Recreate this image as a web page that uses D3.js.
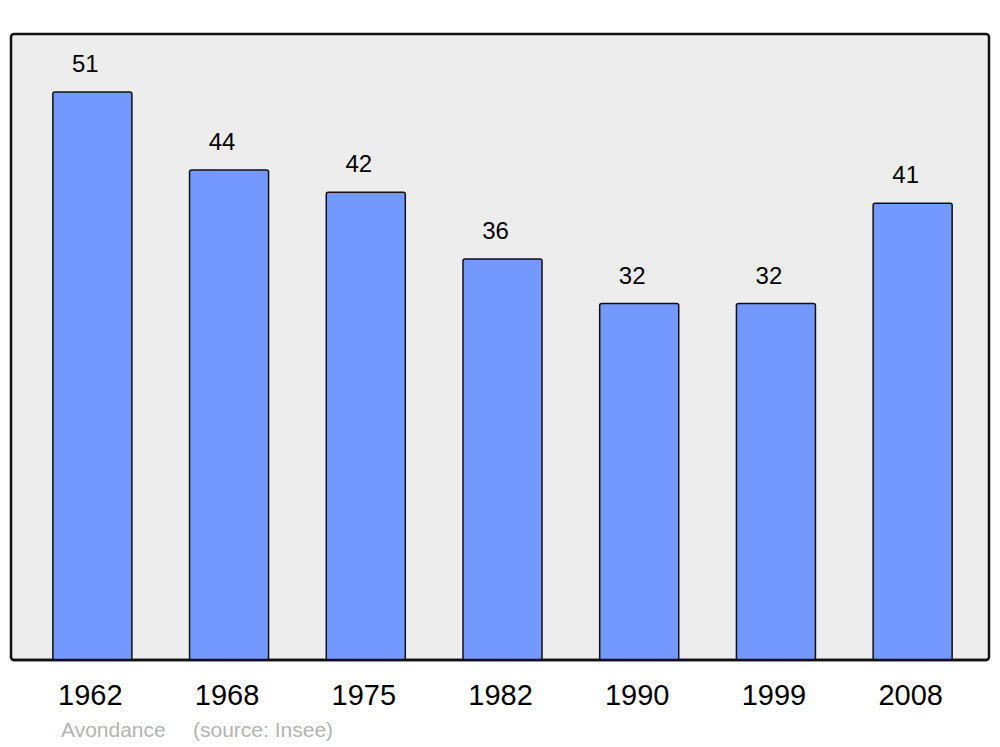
<!DOCTYPE html>
<html>
<head>
<meta charset="utf-8">
<script src="https://cdn.jsdelivr.net/npm/d3@7"></script>
<style>
  body { margin: 0; background: #fff; }
  text { font-family: "Liberation Sans", Arial, sans-serif; }
</style>
</head>
<body>
<div id="chart"></div>
<script>
var svgWidth = 1000;
var svgHeight = 747;

// data
var years = ["1962", "1968", "1975", "1982", "1990", "1999", "2008"];
var population = [51, 44, 42, 36, 32, 32, 41];
var footer = ["Avondance", "(source: Insee)"];

// panel frame
var panel = { left: 11, top: 34, right: 989, bottom: 660 };

var svg = d3.select("#chart")
    .append("svg")
    .attr("width", svgWidth)
    .attr("height", svgHeight);

var table = years.map(function(y, i) {
    return { year: y, value: population[i] };
});

// scales
var xScale = d3.scaleBand()
    .domain(years)
    .range([24, 981])
    .paddingInner(0.422)
    .paddingOuter(0.211);

var yScale = d3.scaleLinear()
    .domain([0, 56.2])
    .range([panel.bottom, panel.top]);

// background panel
svg.append("rect")
    .attr("x", panel.left)
    .attr("y", panel.top)
    .attr("width", panel.right - panel.left)
    .attr("height", panel.bottom - panel.top)
    .attr("rx", 3)
    .attr("fill", "#ededed")
    .attr("stroke", "#111")
    .attr("stroke-width", 2.5);

// bars
svg.append("g")
    .selectAll("rect")
    .data(table)
    .enter()
    .append("rect")
    .attr("x", d => xScale(d.year))
    .attr("y", d => yScale(d.value))
    .attr("width", xScale.bandwidth())
    .attr("height", d => yScale(0) - yScale(d.value))
    .attr("rx", 2)
    .attr("fill", "#7399ff")
    .attr("stroke", "#111")
    .attr("stroke-width", 1.5);

// redraw bottom edge of panel over the bars
svg.append("line")
    .attr("x1", panel.left + 2)
    .attr("x2", panel.right - 2)
    .attr("y1", panel.bottom)
    .attr("y2", panel.bottom)
    .attr("stroke", "#111")
    .attr("stroke-width", 2.5);

// value labels
svg.append("g")
    .selectAll("text")
    .data(table)
    .enter()
    .append("text")
    .attr("x", d => xScale(d.year) + xScale.bandwidth() / 2 - 7)
    .attr("y", d => yScale(d.value) - 20)
    .attr("text-anchor", "middle")
    .attr("font-size", "24px")
    .attr("fill", "#000")
    .text(d => d.value);

// x axis labels
var bottomAxis = d3.axisBottom(xScale).tickSize(0).tickPadding(24);
var axisG = svg.append("g")
    .attr("transform", `translate(0, ${panel.bottom})`)
    .call(bottomAxis);
axisG.select(".domain").remove();
axisG.selectAll("text")
    .attr("font-size", "29px")
    .attr("font-family", "Liberation Sans, Arial, sans-serif")
    .attr("fill", "#000")
    .attr("dx", "-2");

// footer
svg.append("text")
    .attr("x", 61)
    .attr("y", 737)
    .attr("font-size", "21px")
    .attr("fill", "#b3b3b3")
    .text(footer[0]);

svg.append("text")
    .attr("x", 193)
    .attr("y", 737)
    .attr("font-size", "21px")
    .attr("fill", "#b3b3b3")
    .text(footer[1]);
</script>
</body>
</html>
